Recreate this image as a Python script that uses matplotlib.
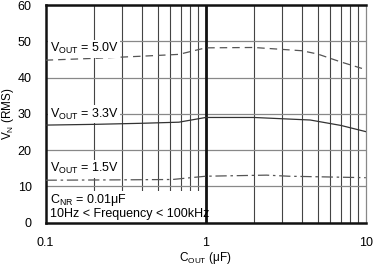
import matplotlib.pyplot as plt
from matplotlib.patches import Rectangle
from matplotlib.ticker import FixedLocator, NullFormatter

plt.rcParams['font.family'] = ['Liberation Sans', 'DejaVu Sans']
plt.rcParams['font.size'] = 9
plt.rcParams['mathtext.fontset'] = 'custom'
plt.rcParams['mathtext.rm'] = 'Liberation Sans'

# values
cout_50 = [0.1, 0.2, 0.4, 0.68, 1.0, 2.0, 4.0, 5.0, 7.0, 10.0]
vn_50 = [44.8, 45.3, 45.9, 46.4, 48.2, 48.3, 47.4, 46.5, 44.3, 42.2]

cout_33 = [0.1, 0.2, 0.4, 0.68, 1.0, 2.0, 4.5, 7.0, 10.0]
vn_33 = [26.9, 27.1, 27.4, 27.7, 29.0, 29.0, 28.3, 26.8, 25.1]

cout_15 = [0.1, 0.3, 0.62, 1.0, 2.4, 3.3, 10.0]
vn_15 = [11.7, 11.8, 11.9, 12.8, 13.1, 12.8, 12.4]

xticks = [0.1, 1, 10]
xtick_labels = ['0.1', '1', '10']
yticks = [0, 10, 20, 30, 40, 50, 60]

fig = plt.figure(figsize=(3.74, 2.66), dpi=100)
ax = fig.add_axes([0.122, 0.163, 0.856, 0.818])

ax.set_xscale('log')
ax.set_xlim(0.1, 10)
ax.set_ylim(0, 60)

minor = [m * d for d in (0.1, 1) for m in range(2, 10)]
ax.xaxis.set_minor_locator(FixedLocator(minor))
ax.xaxis.set_minor_formatter(NullFormatter())
ax.set_xticks(xticks)
ax.set_xticklabels(xtick_labels)
ax.set_yticks(yticks)
ax.tick_params(which='both', length=0, labelsize=9)
ax.tick_params(axis='y', pad=10)
ax.tick_params(axis='x', pad=10)

ax.grid(True, which='minor', axis='x', color='#444444', linewidth=0.8, zorder=1)
ax.grid(True, which='major', axis='y', color='#888888', linewidth=0.9, zorder=1)
ax.set_axisbelow(True)
ax.axvline(1, color='#111111', linewidth=2, zorder=2)

for s in ax.spines.values():
    s.set_linewidth(1.8)
    s.set_color('#111111')
ax.spines['right'].set_linewidth(0.9)
ax.spines['right'].set_color('#888888')

ax.plot(cout_50, vn_50, color='#555555', linewidth=0.9, linestyle=(0, (6, 4)), zorder=3)
ax.plot(cout_33, vn_33, color='#333333', linewidth=0.9, zorder=3)
ax.plot(cout_15, vn_15, color='#555555', linewidth=0.9, linestyle=(0, (9, 3, 2, 3)), zorder=3)

box = dict(facecolor='white', edgecolor='none', pad=1.0)
ax.text(0.106, 47.9, r'V$_{\mathregular{OUT}}$ = 5.0V', va='center', ha='left', bbox=box, zorder=4)
ax.text(0.106, 29.9, r'V$_{\mathregular{OUT}}$ = 3.3V', va='center', ha='left', bbox=box, zorder=4)
ax.text(0.106, 14.9, r'V$_{\mathregular{OUT}}$ = 1.5V', va='center', ha='left', bbox=box, zorder=4)

ax.add_patch(Rectangle((0, 0), 0.5, 0.145, transform=ax.transAxes,
                       facecolor='white', edgecolor='none', zorder=1.5))
ax.text(0.106, 6.2, r'C$_{\mathregular{NR}}$ = 0.01μF', va='center', ha='left', zorder=4)
ax.text(0.106, 2.4, '10Hz < Frequency < 100kHz', va='center', ha='left', zorder=4)

ax.set_xlabel(r'C$_{\mathregular{OUT}}$ (μF)', fontsize=8.5)
ax.xaxis.set_label_coords(0.5, -0.125)
ax.set_ylabel(r'V$_{\mathregular{N}}$ (RMS)', fontsize=8.5)
ax.yaxis.set_label_coords(-0.094, 0.5)

fig.savefig('out.png', dpi=100)
